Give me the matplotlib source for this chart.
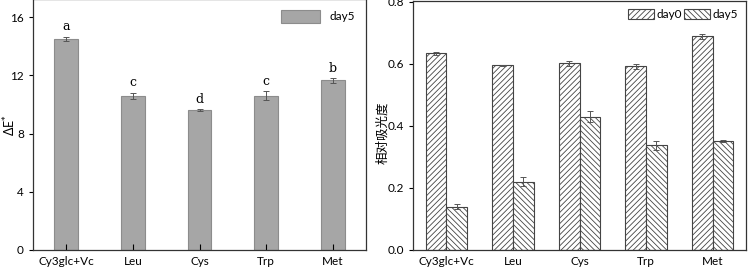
import numpy as np
import matplotlib
matplotlib.use("Agg")
import matplotlib.pyplot as plt

plt.rcParams["font.family"] = ["Lato", "Noto Sans CJK SC", "DejaVu Sans"]
plt.rcParams["hatch.linewidth"] = 0.6

categories = ["Cy3glc+Vc", "Leu", "Cys", "Trp", "Met"]

# left panel: colour difference at day 5
de_day5 = [14.5, 10.6, 9.6, 10.6, 11.65]
de_err = [0.15, 0.2, 0.08, 0.3, 0.15]
letters = ["a", "c", "d", "c", "b"]

# right panel: relative absorbance
abs_day0 = [0.635, 0.595, 0.602, 0.592, 0.69]
abs_day0_err = [0.005, 0.002, 0.009, 0.008, 0.008]
abs_day5 = [0.14, 0.22, 0.43, 0.338, 0.352]
abs_day5_err = [0.007, 0.014, 0.018, 0.014, 0.003]

fig = plt.figure(figsize=(7.48, 2.70), dpi=100)
ax1 = fig.add_axes([33 / 748, 20 / 270, 333 / 748, 251 / 270])
ax2 = fig.add_axes([413 / 748, 20 / 270, 333 / 748, 249 / 270])

x = np.arange(len(categories))
err_kw = dict(ecolor="#555555", elinewidth=0.7, capsize=2.5, capthick=0.7)

ax1.bar(x, de_day5, width=0.36, color="#a6a6a6", edgecolor="#8c8c8c",
        linewidth=0.8, yerr=de_err, error_kw=err_kw, label="day5")
for xi, v, e, t in zip(x, de_day5, de_err, letters):
    ax1.text(xi, v + e + 0.25, t, ha="center", va="bottom",
             fontsize=9, family="DejaVu Serif")
ax1.set_xlim(-0.5, 4.5)
ax1.set_ylim(0, 17.25)
ax1.set_yticks([0, 4, 8, 12, 16])
ax1.set_xticks(x)
ax1.set_xticklabels(categories)
ax1.set_ylabel("ΔE$^{*}$", fontsize=9)
ax1.yaxis.set_label_coords(-0.045, 0.5)
ax1.tick_params(axis="x", direction="in", length=4, labelsize=8.5, pad=4)
ax1.tick_params(axis="y", direction="out", length=3, labelsize=8.5)
ax1.legend(loc="upper right", frameon=False, fontsize=8.5,
           handlelength=3.3, handleheight=1.4, borderaxespad=0.5)

w = 0.31
ax2.bar(x - w / 2, abs_day0, width=w, color="white", edgecolor="#444444",
        linewidth=0.8, hatch="//////", yerr=abs_day0_err, error_kw=err_kw,
        label="day0")
ax2.bar(x + w / 2, abs_day5, width=w, color="white", edgecolor="#444444",
        linewidth=0.8, hatch="\\\\\\\\\\\\", yerr=abs_day5_err, error_kw=err_kw,
        label="day5")
ax2.set_xlim(-0.5, 4.5)
ax2.set_ylim(0, 0.803)
ax2.set_yticks([0.0, 0.2, 0.4, 0.6, 0.8])
ax2.set_yticklabels(["0.0", "0.2", "0.4", "0.6", "0.8"])
ax2.set_xticks(x)
ax2.set_xticklabels(categories)
ax2.set_ylabel("相对吸光度", fontsize=9)
ax2.yaxis.set_label_coords(-0.075, 0.47)
ax2.tick_params(axis="x", length=0, labelsize=8.5, pad=4)
ax2.tick_params(axis="y", direction="out", length=3, labelsize=8.5)
ax2.legend(loc="upper right", ncol=2, frameon=False, fontsize=8.5,
           handlelength=2.2, handleheight=0.9, columnspacing=0.25,
           handletextpad=0.15, borderaxespad=0.3)

for ax in (ax1, ax2):
    for s in ax.spines.values():
        s.set_linewidth(0.9)
        s.set_color("#333333")

fig.savefig("out.png", dpi=100)
